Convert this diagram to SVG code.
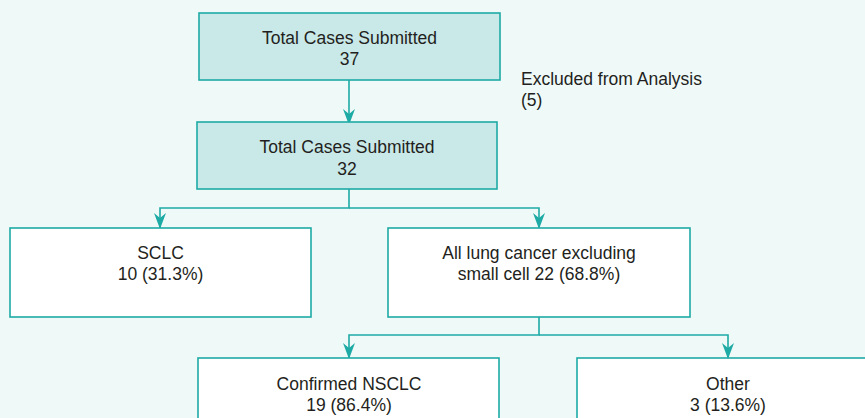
<svg xmlns="http://www.w3.org/2000/svg" width="865" height="418" viewBox="0 0 865 418">
<style>
.box{fill:#ffffff;stroke:#1eaba6;stroke-width:1.6}
.hl{fill:#c9e8e8}
.t{font-family:"Liberation Sans",Arial,sans-serif;font-size:17.5px;fill:#231f20;text-anchor:middle}
.l{text-anchor:start}
.c{fill:none;stroke:#1eaba6;stroke-width:1.6}
</style>
<defs>
<marker id="ah" viewBox="0 0 16 12" refX="16" refY="6" markerWidth="16" markerHeight="12" markerUnits="userSpaceOnUse" orient="auto">
<path d="M0,0 L5,6 L0,12 L16,6 Z" fill="#1eaba6"/>
</marker>
</defs>
<rect x="0" y="0" width="865" height="418" fill="#eff9f8"/>
<g id="connectors">
<line class="c" x1="349" y1="80" x2="349" y2="125" marker-end="url(#ah)"/>
<polyline class="c" points="349,189 349,208 160,208 160,229" marker-end="url(#ah)"/>
<polyline class="c" points="349,208 539,208 539,229" marker-end="url(#ah)"/>
<polyline class="c" points="539,317 539,335 349,335 349,359" marker-end="url(#ah)"/>
<polyline class="c" points="539,335 728,335 728,359" marker-end="url(#ah)"/>
</g>
<g id="n_total37">
<rect class="box hl" x="199" y="13" width="301" height="67"/>
<text class="t" x="349.5" y="44">Total Cases Submitted</text>
<text class="t" x="349.5" y="65">37</text>
</g>
<g id="n_excluded">
<text class="t l" x="521" y="85">Excluded from Analysis</text>
<text class="t l" x="521" y="106">(5)</text>
</g>
<g id="n_total32">
<rect class="box hl" x="197" y="122" width="300" height="67"/>
<text class="t" x="347" y="153">Total Cases Submitted</text>
<text class="t" x="347" y="175">32</text>
</g>
<g id="n_sclc">
<rect class="box" x="10" y="228" width="301" height="89"/>
<text class="t" x="160.5" y="259">SCLC</text>
<text class="t" x="160.5" y="280">10 (31.3%)</text>
</g>
<g id="n_nonsmall">
<rect class="box" x="388" y="228" width="302" height="89"/>
<text class="t" x="539" y="259">All lung cancer excluding</text>
<text class="t" x="539" y="280">small cell 22 (68.8%)</text>
</g>
<g id="n_nsclc">
<rect class="box" x="198" y="358" width="301" height="80"/>
<text class="t" x="349" y="390">Confirmed NSCLC</text>
<text class="t" x="349" y="411">19 (86.4%)</text>
</g>
<g id="n_other">
<rect class="box" x="577" y="358" width="301" height="80"/>
<text class="t" x="728" y="390">Other</text>
<text class="t" x="728" y="411">3 (13.6%)</text>
</g>
</svg>
